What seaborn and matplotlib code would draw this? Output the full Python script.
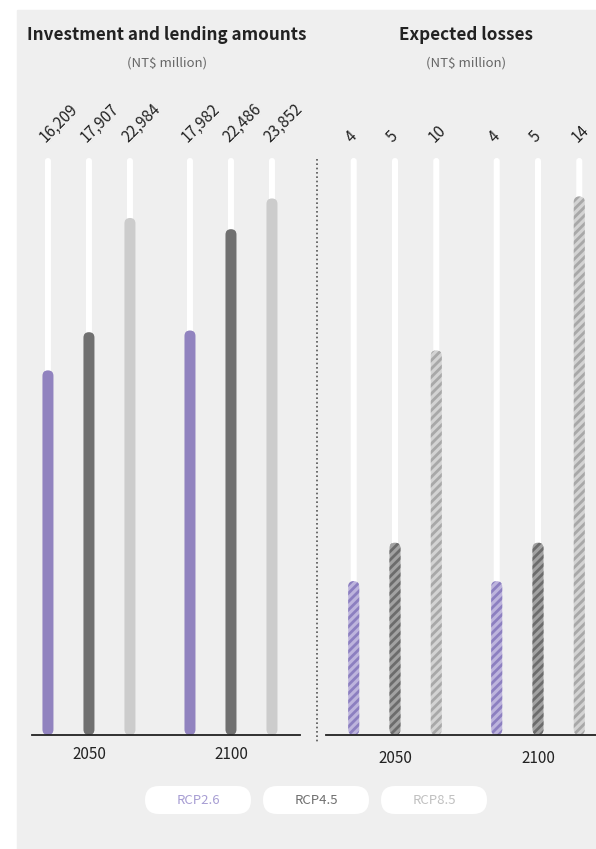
import numpy as np
import pandas as pd
import matplotlib.pyplot as plt
import seaborn as sns
from matplotlib.patches import FancyBboxPatch, Rectangle
from matplotlib.lines import Line2D

# ---- data ----
years = ["2050", "2100"]
scenarios = ["RCP2.6", "RCP4.5", "RCP8.5"]
investment_2050 = [16209, 17907, 22984]
investment_2100 = [17982, 22486, 23852]
losses_2050 = [4, 5, 10]
losses_2100 = [4, 5, 14]

solid_colors = ["#9183bf", "#707070", "#cccccc"]
hatch_base = ["#bdb4dd", "#a2a2a2", "#d3d3d3"]
hatch_stripe = ["#8c7fc0", "#6c6c6c", "#a8a8a8"]
legend_text_colors = ["#a79dd3", "#6f6f6f", "#c0c0c0"]

inv_df = pd.DataFrame({
    "year": np.repeat(years, 3),
    "scenario": scenarios * 2,
    "value": investment_2050 + investment_2100,
})
loss_df = pd.DataFrame({
    "year": np.repeat(years, 3),
    "scenario": scenarios * 2,
    "value": losses_2050 + losses_2100,
})

sns.set_style("white")
plt.rcParams["font.family"] = ["Noto Sans CJK TC", "DejaVu Sans"]
plt.rcParams["hatch.linewidth"] = 2.0

W, H = 596, 849
fig = plt.figure(figsize=(W / 100, H / 100), dpi=100, facecolor="white")
inch = fig.dpi_scale_trans


def px_rect(x0, y0, x1, y1):
    # pixel box (y from top) -> figure fraction
    return [x0 / W, 1 - y1 / H, (x1 - x0) / W, (y1 - y0) / H]


# gray card behind everything
fig.patches.append(Rectangle((17 / 100, 0), (W - 17) / 100, (H - 10) / 100,
                             transform=inch, color="#efefef", zorder=-5))


def draw_panel(box, ymax, xlim, df, hatched):
    x0, y0, x1, y1 = box
    ax = fig.add_axes(px_rect(*box))
    ax.set_zorder(2)
    ax.patch.set_alpha(0)
    xu = (xlim[1] - xlim[0]) / (x1 - x0)
    yu = ymax / (y1 - y0)

    # white background tracks, then the value bars
    n0 = len(ax.patches)
    sns.barplot(data=df.assign(track=ymax), x="year", y="track", hue="scenario",
                palette=["#ffffff"] * 3, width=0.866, saturation=1,
                errorbar=None, legend=False, ax=ax)
    tracks = list(ax.patches[n0:])
    n1 = len(ax.patches)
    sns.barplot(data=df, x="year", y="value", hue="scenario",
                palette=solid_colors, width=0.866, saturation=1,
                errorbar=None, legend=False, ax=ax)
    bars = list(ax.patches[n1:])

    # swap seaborn's rectangles for thin rounded ones
    def rounded(p, width_px, face, stripe=None, z=2):
        xc = p.get_x() + p.get_width() / 2
        h = p.get_height()
        w = width_px * xu
        fb = FancyBboxPatch((xc - w / 2, 0), w, h,
                            boxstyle=f"round,pad=0,rounding_size={w / 2}",
                            mutation_aspect=yu / xu, facecolor=face,
                            edgecolor=stripe if stripe else face,
                            linewidth=0, hatch="////" if stripe else None,
                            zorder=z)
        ax.add_patch(fb)
        p.remove()
        return xc, h

    for p in tracks:
        rounded(p, 6, "#ffffff", z=1)

    for p in bars:
        fc = p.get_facecolor()
        i = [np.allclose(fc[:3], plt.matplotlib.colors.to_rgb(c)) for c in solid_colors].index(True)
        if hatched:
            xc, h = rounded(p, 11, hatch_base[i], hatch_stripe[i])
        else:
            xc, h = rounded(p, 11, solid_colors[i])
        ax.annotate(f"{h:,.0f}", xy=(xc, ymax), xytext=(-1.5, 11),
                    textcoords="offset points", rotation=45,
                    rotation_mode="anchor", ha="left", va="baseline",
                    fontsize=11, color="#222222", annotation_clip=False)

    ax.set_xlim(*xlim)
    ax.set_ylim(0, ymax)
    ax.set_yticks([])
    ax.set_xlabel("")
    ax.set_ylabel("")
    for s in ["top", "left", "right"]:
        ax.spines[s].set_visible(False)
    ax.spines["bottom"].set_color("#222222")
    ax.spines["bottom"].set_linewidth(1.3)
    ax.tick_params(axis="x", length=0, labelsize=11, labelcolor="#222222")
    return ax


ax1 = draw_panel((32, 158, 300, 735), 25650, (-0.401, 1.486), inv_df, False)
ax2 = draw_panel((326, 158, 596, 735), 15.0, (-0.4825, 1.4056), loss_df, True)
ax1.tick_params(axis="x", pad=8)
ax2.tick_params(axis="x", pad=11)

# titles
fig.text(167 / W, 1 - 35 / H, "Investment and lending amounts", ha="center",
         va="center", fontsize=12.3, fontweight="bold", color="#222222")
fig.text(167 / W, 1 - 63 / H, "(NT$ million)", ha="center", va="center",
         fontsize=9.5, color="#666666")
fig.text(466 / W, 1 - 35 / H, "Expected losses", ha="center", va="center",
         fontsize=12.3, fontweight="bold", color="#222222")
fig.text(466 / W, 1 - 63 / H, "(NT$ million)", ha="center", va="center",
         fontsize=9.5, color="#666666")

# dotted separator between panels
fig.add_artist(Line2D([3.17, 3.17], [(H - 159) / 100, (H - 742) / 100],
                      transform=inch, color="#555555", lw=1.2,
                      linestyle=(0, (1, 1.6))))

# legend pills
pill_centers = [198, 316, 434]
pill_y = 800
for name, cx, tc in zip(scenarios, pill_centers, legend_text_colors):
    fig.patches.append(FancyBboxPatch(((cx - 53) / 100, (H - pill_y - 14) / 100),
                                      1.06, 0.28,
                                      boxstyle="round,pad=0,rounding_size=0.14",
                                      transform=inch, facecolor="white",
                                      edgecolor="none", zorder=1))
    fig.text(cx / W, 1 - pill_y / H, name, ha="center", va="center",
             fontsize=9.5, color=tc)

fig.savefig("out.png", dpi=100)
